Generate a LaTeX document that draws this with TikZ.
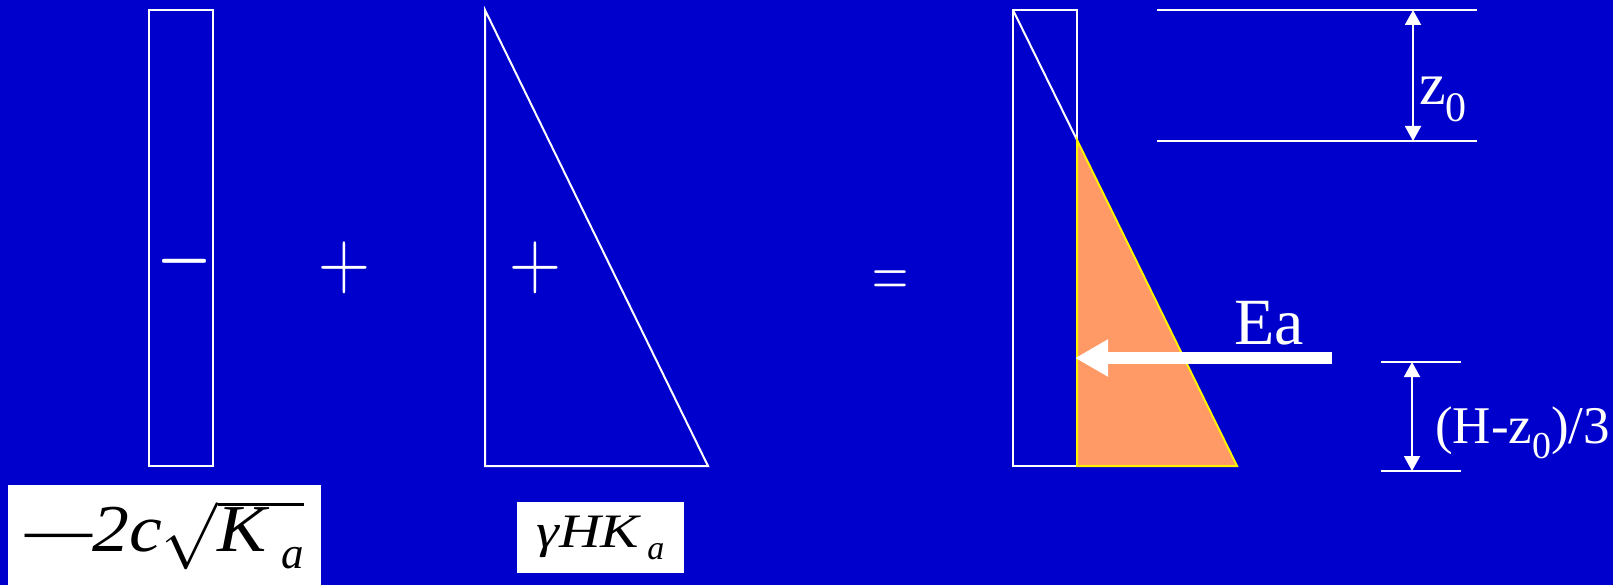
\documentclass[tikz,border=0pt]{standalone}
\usepackage{fix-cm}
\usepackage{fontspec}
\usepackage{graphicx}
\newfontfamily\tms{Liberation Serif}
\usetikzlibrary{arrows.meta}
\definecolor{slide}{RGB}{0,0,204}
\definecolor{wedge}{RGB}{255,153,102}
\tikzset{
  wline/.style={draw=white,line width=2pt},
  dimarrow/.style={white,line width=2pt,{Triangle[width=16pt,length=15pt]}-{Triangle[width=16pt,length=15pt]}},
  sign/.style={text=white,inner sep=0pt},
  lbl/.style={text=white,inner sep=0pt,font=\tms},
  formula/.style={fill=white,text=black,inner sep=0pt,font=\tms}
}
\begin{document}
\begin{tikzpicture}[x=1pt,y=-1pt]
\useasboundingbox (0,0) rectangle (1613,585);
\fill[slide] (0,0) rectangle (1613,585);
\draw[wline] (149,10) rectangle (213,466);
\draw[wline] (485,10)--(485,466)--(708,466)--cycle;
\draw[wline] (1013,10) rectangle (1077,466);
\draw[wline] (1013,10)--(1077,140);
\filldraw[fill=wedge,draw=yellow,line width=2pt] (1077,140)--(1237,466)--(1077,466)--cycle;
\node[sign] (minus) at (184,261) {\fontsize{72}{72}\selectfont\scalebox{1}[1.4]{$-$}};
\node[sign] (plusa) at (344,268) {\fontsize{72}{72}\selectfont\scalebox{1}[1.15]{$+$}};
\node[sign] (plusb) at (535,268) {\fontsize{72}{72}\selectfont\scalebox{1}[1.15]{$+$}};
\node[sign] (equal) at (890,284) {\fontsize{50}{50}\selectfont\scalebox{1}[1.5]{$=$}};
\draw[wline] (1157,10)--(1477,10);
\draw[wline] (1157,141)--(1477,141);
\coordinate (ztop) at (1413,10);
\coordinate (zbot) at (1413,141);
\draw[dimarrow] (ztop)--(zbot);
\node[lbl,anchor=base west] (zlab) at (1419,105) {\fontsize{60}{62}\selectfont z\raisebox{-17pt}{\fontsize{42}{44}\selectfont 0}};
\draw[wline] (1381,362)--(1461,362);
\draw[wline] (1381,471)--(1461,471);
\coordinate (htop) at (1412,362);
\coordinate (hbot) at (1412,471);
\draw[dimarrow] (htop)--(hbot);
\node[lbl,anchor=base west] (hlab) at (1435,443) {\fontsize{53}{55}\selectfont (H-z\raisebox{-15pt}{\fontsize{38}{40}\selectfont 0})/3};
\coordinate (eatail) at (1332,358);
\coordinate (eatip) at (1075,358);
\draw[white,line width=12pt,-{Triangle[width=35pt,length=33pt]}] (eatail)--(eatip);
\node[lbl,anchor=base west] (ea) at (1234,344) {\fontsize{66}{68}\selectfont Ea};
\node[formula,minimum width=313pt,minimum height=100pt] (cohesion) at (164.5,535)
  {\fontsize{67}{69}\selectfont—\scalebox{1.1}[1]{\textit{2c}}$\sqrt{\mbox{\scalebox{1.1}[1]{\textit{K}}\,\raisebox{-17pt}{\fontsize{45}{45}\selectfont\textit{a}}}}$};
\node[formula,minimum width=167pt,minimum height=71pt] (weight) at (600.5,537.5)
  {\fontsize{48}{50}\selectfont\itshape\scalebox{1.2}[1]{γHK}\,\raisebox{-12pt}{\fontsize{34}{34}\selectfont a}};
\end{tikzpicture}
\end{document}
